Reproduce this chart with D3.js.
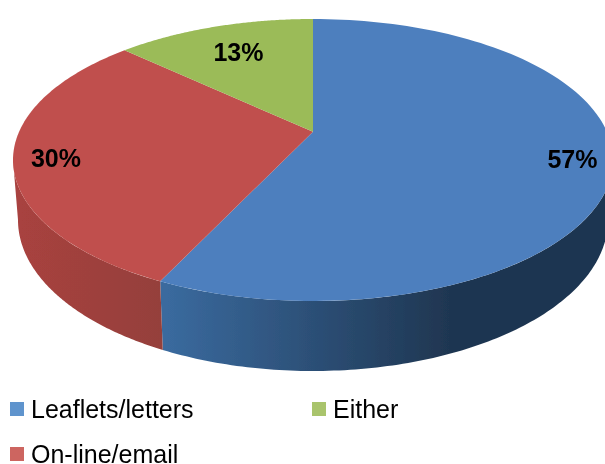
<!DOCTYPE html>
<html><head><meta charset="utf-8">
<script src="https://cdn.jsdelivr.net/npm/d3@7"></script>
<style>html,body{margin:0;padding:0;background:#fff}svg{display:block}
text{font-family:"Liberation Sans",Arial,sans-serif;fill:#000}</style></head>
<body><svg id="c" width="605" height="464"></svg>
<script>
const categories = ["Leaflets/letters", "On-line/email", "Either"];
const values = [57, 30, 13];
const faceColors = ["#4d7fbe", "#c0504d", "#9bbb59"];
const legendColors = ["#5f94cd", "#cd6560", "#a9c46c"];
const sideStops = [["#3a6a9e", "#1f3651"], ["#a8423f", "#94403b"], ["#7a9a3a", "#7a9a3a"]];

const svg = d3.select("#c");
const topE = {cx: 313, cy: 160, rx: 300, ry: 141};
const botE = {cx: 313, cy: 220, rx: 295, ry: 151};
const tilt = -0.2;
const sx = d3.scaleLinear().domain([-1, 1]);
const sy = d3.scaleLinear().domain([-1, 1]);
function project(theta, e) {
  const x = Math.sin(theta), y = -Math.cos(theta), d = 1 + tilt * y;
  const px = x * Math.sqrt(1 - tilt * tilt) / d, py = (y + tilt) / d;
  sx.range([e.cx - e.rx, e.cx + e.rx]); sy.range([e.cy - e.ry, e.cy + e.ry]);
  return [sx(px), sy(py)];
}
const pie = d3.pie().sort(null).value(d => d)(values);
const line = d3.line();
const samples = (a, b) => d3.range(0, 121).map(i => a + (b - a) * i / 120);

const defs = svg.append("defs");
const soft = defs.append("filter").attr("id", "soft").attr("x", "-5%").attr("y", "-5%").attr("width", "110%").attr("height", "110%");
soft.append("feGaussianBlur").attr("stdDeviation", 0.6);
const softText = defs.append("filter").attr("id", "softText").attr("x", "-5%").attr("y", "-5%").attr("width", "110%").attr("height", "110%");
softText.append("feGaussianBlur").attr("stdDeviation", 0.35);
pie.forEach((p, i) => {
  const g = defs.append("linearGradient").attr("id", "side" + i)
    .attr("gradientUnits", "userSpaceOnUse")
    .attr("x1", i === 0 ? 167 : 20).attr("x2", i === 0 ? 450 : 168).attr("y1", 0).attr("y2", 0);
  g.append("stop").attr("offset", 0).attr("stop-color", sideStops[i][0]);
  g.append("stop").attr("offset", 1).attr("stop-color", sideStops[i][1]);
});

const pieG = svg.append("g").attr("filter", "url(#soft)");

// side wall: the rim is visible between its right-most and left-most points
const asinT = Math.asin(-tilt);
const frontA = Math.PI / 2 + asinT, frontB = 3 * Math.PI / 2 - asinT;
pie.slice(0, 2).forEach((p, i) => {
  const a = Math.max(p.startAngle, frontA), b = Math.min(p.endAngle, frontB);
  const ts = samples(a, b);
  const pts = ts.map(t => project(t, topE)).concat(ts.slice().reverse().map(t => project(t, botE)));
  pieG.append("path").attr("d", line(pts) + "Z").attr("fill", `url(#side${i})`);
});

// top face
const apex = [topE.cx, topE.cy + tilt * topE.ry];
pie.forEach((p, i) => {
  const pts = [apex].concat(samples(p.startAngle, p.endAngle).map(t => project(t, topE)));
  pieG.append("path").attr("d", line(pts) + "Z").attr("fill", faceColors[i]);
});

const textG = svg.append("g").attr("filter", "url(#softText)");

// value labels
const labelPos = [[572.5, 168], [56, 167], [238.5, 61]];
values.forEach((v, i) => {
  textG.append("text").attr("x", labelPos[i][0]).attr("y", labelPos[i][1])
    .attr("text-anchor", "middle").attr("font-size", 25).attr("font-weight", "bold").text(v + "%");
});

// legend
const legendPos = [[10, 402], [10, 447], [312, 402]];
categories.forEach((c, i) => {
  const [x, y] = legendPos[i];
  svg.append("rect").attr("x", x).attr("y", y).attr("width", 14).attr("height", 14).attr("fill", legendColors[i]);
  textG.append("text").attr("x", x + 21).attr("y", y + 16).attr("font-size", 25).text(c);
});
</script></body></html>
